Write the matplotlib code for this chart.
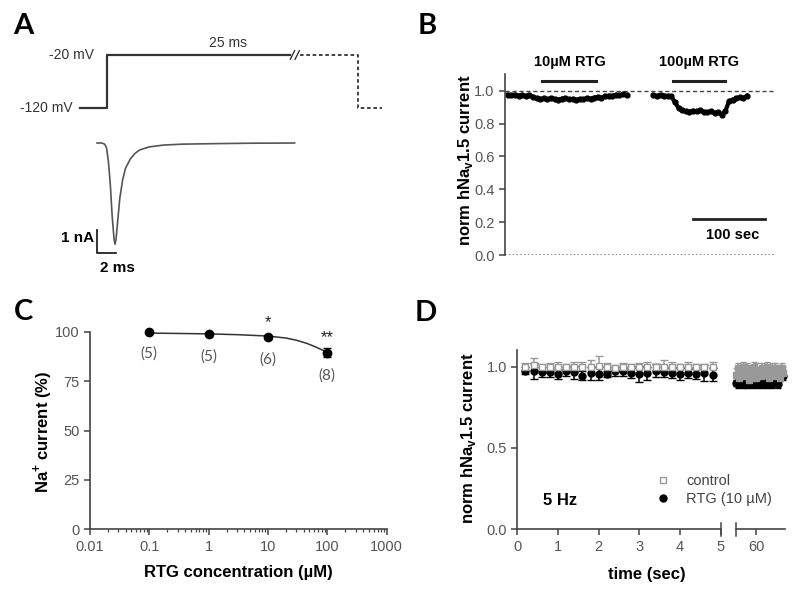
import numpy as np
import matplotlib
matplotlib.use('Agg')
import matplotlib.pyplot as plt

plt.rcParams['font.family'] = ['Liberation Sans', 'DejaVu Sans']
plt.rcParams['mathtext.fontset'] = 'custom'
plt.rcParams['mathtext.rm'] = 'Liberation Sans'
plt.rcParams['mathtext.bf'] = 'Liberation Sans:bold'

# ---- panel A: voltage protocol (ms, mV) and current trace (ms, nA)
v_t_solid = [-1.8, 1.0, 1.0, 20.3]
v_solid = [-120, -120, -20, -20]
v_t_dash = [21.4, 27.5, 27.5, 30.0]
v_dash = [-20, -20, -120, -120]
trace_t = [0, 0.5, 0.8, 1.0, 1.2, 1.4, 1.6, 1.8, 1.9, 2.0, 2.2, 2.4, 2.7,
           3.0, 3.5, 4.0, 4.5, 5.5, 7, 9, 12, 16, 20.8]
trace_i = [0, 0, -0.05, -0.2, -0.8, -1.8, -3.2, -4.2, -4.4, -4.2, -3.3, -2.4,
           -1.6, -1.1, -0.7, -0.45, -0.3, -0.17, -0.09, -0.05, -0.03, -0.01, 0]

# ---- panel B: normalised current over time (s)
b_t1 = list(range(4, 170, 5))
b_y1 = [0.975, 0.972, 0.976, 0.970, 0.974, 0.968, 0.972, 0.962, 0.955, 0.950,
        0.953, 0.948, 0.955, 0.950, 0.946, 0.952, 0.955, 0.948, 0.950, 0.944,
        0.950, 0.947, 0.955, 0.952, 0.958, 0.962, 0.958, 0.965, 0.970, 0.968,
        0.975, 0.972, 0.978, 0.975]
b_t2 = list(range(206, 337, 5))
b_y2 = [0.972, 0.968, 0.975, 0.970, 0.968, 0.965, 0.930, 0.895, 0.880, 0.875,
        0.872, 0.878, 0.875, 0.880, 0.872, 0.868, 0.875, 0.865, 0.870, 0.855,
        0.875, 0.935, 0.945, 0.955, 0.960, 0.955, 0.970]
bar10 = [52, 127]
bar100 = [233, 306]
scale_b = [261, 361]

# ---- panel C: dose response
conc = [0.1, 1, 10, 100]
na_cur = [100, 98.8, 97.1, 89.3]
na_err = [0.4, 0.5, 0.6, 2.2]
n_cells = ['(5)', '(5)', '(6)', '(8)']
stars = ['', '', '*', '**']
fit_x = [0.1, 0.33, 1, 3, 10, 20, 30, 45, 60, 80, 100]
fit_y = [99.3, 99.1, 98.9, 98.5, 97.8, 96.8, 95.7, 94.1, 92.6, 90.9, 89.5]
c_ticks = [0.01, 0.1, 1, 10, 100, 1000]
c_ticklabels = ['0.01', '0.1', '1', '10', '100', '1000']

# ---- panel D: 5 Hz train
d_t = [0.2, 0.4, 0.6, 0.8, 1.0, 1.2, 1.4, 1.6, 1.8, 2.0, 2.2, 2.4, 2.6, 2.8,
       3.0, 3.2, 3.4, 3.6, 3.8, 4.0, 4.2, 4.4, 4.6, 4.8]
ctrl = [1.0, 1.01, 0.995, 1.0, 1.0, 0.995, 1.0, 1.0, 1.0, 1.005, 1.0, 0.99,
        1.0, 0.995, 1.0, 1.0, 0.995, 1.0, 1.0, 0.995, 1.0, 0.995, 0.995, 1.0]
ctrl_err = [0.02, 0.04, 0.02, 0.02, 0.03, 0.02, 0.03, 0.03, 0.04, 0.06, 0.02,
            0.02, 0.02, 0.02, 0.02, 0.03, 0.02, 0.04, 0.03, 0.02, 0.03, 0.02,
            0.02, 0.03]
rtg = [0.975, 0.975, 0.965, 0.965, 0.955, 0.97, 0.965, 0.945, 0.96, 0.955,
       0.955, 0.97, 0.97, 0.96, 0.955, 0.96, 0.975, 0.965, 0.96, 0.955, 0.96,
       0.955, 0.96, 0.95]
rtg_err = [0.02, 0.05, 0.03, 0.03, 0.03, 0.03, 0.04, 0.03, 0.04, 0.04, 0.02,
           0.03, 0.03, 0.03, 0.05, 0.04, 0.04, 0.03, 0.03, 0.04, 0.03, 0.03,
           0.05, 0.04]
d_t60 = [55.0, 55.4, 55.8, 56.2, 56.6, 57.0, 57.4, 57.8, 58.2, 58.6, 59.0,
         59.4, 59.8, 60.2, 60.6, 61.0, 61.4, 61.8, 62.2, 62.6, 63.0, 63.4,
         63.8, 64.2, 64.6, 65.0, 65.4, 65.8, 66.2, 66.6]
ctrl60 = [0.95, 0.99, 0.93, 0.97, 1.0, 0.94, 0.96, 0.99, 0.92, 0.97, 0.95,
          1.0, 0.93, 0.98, 0.96, 0.94, 0.99, 0.95, 0.97, 1.0, 0.93, 0.96,
          0.98, 0.94, 0.99, 0.95, 0.97, 0.93, 0.99, 0.96]
ctrl60_err = [0.04, 0.03, 0.05, 0.04, 0.03, 0.05, 0.04, 0.03, 0.05, 0.04,
              0.04, 0.03, 0.05, 0.04, 0.04, 0.05, 0.03, 0.04, 0.04, 0.03,
              0.05, 0.04, 0.04, 0.05, 0.03, 0.04, 0.04, 0.05, 0.03, 0.04]
rtg60 = [0.90, 0.89, 0.91, 0.90, 0.89, 0.90, 0.91, 0.89, 0.90, 0.90, 0.89,
         0.91, 0.90, 0.89, 0.90, 0.91, 0.89, 0.90, 0.90, 0.89, 0.91, 0.90,
         0.89, 0.90, 0.91, 0.90, 0.89, 0.93, 0.95, 0.94]
rtg60_err = [0.02] * len(rtg60)

W, H = 800, 598
fig = plt.figure(figsize=(W / 100, H / 100), dpi=100)

GRAY_TXT = '#555555'
SPINE = '#444444'


def px_axes(x0, y0, x1, y1):
    ax = fig.add_axes([x0 / W, 1 - y1 / H, (x1 - x0) / W, (y1 - y0) / H])
    ax.patch.set_alpha(0)
    return ax


def ftext(x, y, s, **kw):
    fig.text(x / W, 1 - y / H, s, **kw)


def style_axis(ax):
    for s in ['top', 'right']:
        ax.spines[s].set_visible(False)
    for s in ['left', 'bottom']:
        ax.spines[s].set_color(SPINE)
        ax.spines[s].set_linewidth(1.2)
    ax.tick_params(direction='out', length=4, width=1.1, color=SPINE,
                   labelcolor=GRAY_TXT, labelsize=10.5)


# ---------------- panel A
axv = px_axes(70, 40, 390, 120)
axv.set_xlim((70 - 97) / 9.5, (390 - 97) / 9.5)
axv.set_ylim(-142.6, 8.3)
axv.axis('off')
axv.plot(v_t_solid, v_solid, color='#333333', lw=1.6)
axv.plot(v_t_dash, v_dash, color='#333333', lw=1.3, ls=(0, (2, 1.5)))
for x0 in [20.35, 20.85]:
    axv.plot([x0, x0 + 0.45], [-28, -12], color='#333333', lw=1.0)
axv.text(-0.3, -20, '-20 mV', ha='right', va='center', fontsize=10, color='#333333')
axv.text(-2.6, -120, '-120 mV', ha='right', va='center', fontsize=10, color='#333333')
axv.text(13.8, 3, '25 ms', ha='center', va='center', fontsize=10, color='#333333')

axi = px_axes(40, 130, 390, 290)
axi.set_xlim((40 - 97) / 9.5, (390 - 97) / 9.5)
axi.set_ylim(-(290 - 143) / 23, (143 - 130) / 23)
axi.axis('off')
axi.plot(trace_t, trace_i, color='#555555', lw=1.2)
axi.plot([0, 0, 2], [-3.8, -4.8, -4.8], color='#222222', lw=1.3)
axi.text(-0.35, -4.15, '1 nA', ha='right', va='center', fontsize=11, fontweight='bold')
axi.text(2.1, -5.45, '2 ms', ha='center', va='center', fontsize=11, fontweight='bold')

# ---------------- panel B
axb = px_axes(505, 74.3, 775, 255)
style_axis(axb)
axb.spines['bottom'].set_visible(False)
axb.set_xlim(0, 375)
axb.set_ylim(0, 1.1)
axb.set_xticks([])
axb.set_yticks([0, 0.2, 0.4, 0.6, 0.8, 1.0])
axb.set_yticklabels(['0.0', '0.2', '0.4', '0.6', '0.8', '1.0'])
axb.axhline(0, color='#666666', lw=1.1, ls=(0, (1, 1.5)))
axb.axhline(1.0, color='#444444', lw=1.0, ls=(0, (3, 2)))
axb.plot(b_t1, b_y1, 'o-', color='black', ms=3.5, lw=3)
axb.plot(b_t2, b_y2, 'o-', color='black', ms=3.5, lw=3)
axb.plot(bar10, [1.06, 1.06], color='#222222', lw=2.2, clip_on=False)
axb.plot(bar100, [1.06, 1.06], color='#222222', lw=2.2, clip_on=False)
axb.plot(scale_b, [0.22, 0.22], color='#222222', lw=2.0)
axb.text(np.mean(bar10), 1.177, '10µM RTG', ha='center', va='center',
         fontsize=10.5, fontweight='bold')
axb.text(np.mean(bar100), 1.177, '100µM RTG', ha='center', va='center',
         fontsize=10.5, fontweight='bold')
axb.text(316, 0.122, '100 sec', ha='center', va='center', fontsize=10.5,
         fontweight='bold')
ftext(465, 160, r'norm hNa$_\mathbf{v}$1.5 current', rotation=90, ha='center',
      va='center', fontsize=12, fontweight='bold')

# ---------------- panel C
axc = px_axes(90, 331.7, 386.7, 529.3)
style_axis(axc)
axc.set_xscale('log')
axc.set_xlim(0.01, 1000)
axc.set_ylim(0, 100)
axc.set_xticks(c_ticks)
axc.set_xticklabels(c_ticklabels)
axc.set_yticks([0, 25, 50, 75, 100])
axc.tick_params(which='minor', length=2.5, width=0.9, color=SPINE)
axc.plot(fit_x, fit_y, color='#333333', lw=1.1, clip_on=False)
axc.errorbar(conc, na_cur, yerr=na_err, fmt='o', color='black', ms=6,
             capsize=3, elinewidth=1.2, clip_on=False, zorder=3)
for x, y, n, s in zip(conc, na_cur, n_cells, stars):
    axc.annotate(n, (x, y), xytext=(0, -16), textcoords='offset points',
                 ha='center', va='center', fontsize=11, color=GRAY_TXT,
                 family=['Lato', 'DejaVu Sans'])
    if s:
        axc.annotate(s, (x, y), xytext=(0, 11), textcoords='offset points',
                     ha='center', va='center', fontsize=12, color='#222222')
ftext(43, 431.7, r'Na$^\mathbf{+}$ current (%)', rotation=90, ha='center',
      va='center', fontsize=12, fontweight='bold')
ftext(238, 573, 'RTG concentration (µM)', ha='center', va='center',
      fontsize=12, fontweight='bold')

# ---------------- panel D (broken x axis: 0-5 s and around 60 s)
axd2 = px_axes(736, 350.3, 785, 529.3)
style_axis(axd2)
axd2.spines['left'].set_visible(False)
axd2.set_xlim(55, 67)
axd2.set_ylim(0, 1.1)
axd2.set_yticks([])
axd2.set_xticks([60])
axd2.plot([0, 0], [-0.035, 0.035], transform=axd2.transAxes, color=SPINE,
          lw=1.1, clip_on=False)
axd2.errorbar(d_t60, rtg60, yerr=rtg60_err, fmt='o', color='black', ms=5,
              capsize=2.5, elinewidth=1.1, clip_on=False, zorder=3)
axd2.errorbar(d_t60, ctrl60, yerr=[np.zeros(len(ctrl60_err)), ctrl60_err],
              fmt='s', color='#999999', mfc='#999999', mec='#999999', ms=5,
              capsize=2.5, elinewidth=1.1, clip_on=False, zorder=4)

axd = px_axes(517.3, 350.3, 720.7, 529.3)
style_axis(axd)
axd.set_xlim(0, 5)
axd.set_ylim(0, 1.1)
axd.set_xticks([0, 1, 2, 3, 4, 5])
axd.set_yticks([0, 0.5, 1.0])
axd.set_yticklabels(['0.0', '0.5', '1.0'])
eb_r = axd.errorbar(d_t, rtg, yerr=rtg_err, fmt='o', color='black', ms=5,
                    capsize=3, elinewidth=1.1, zorder=3)
eb_c = axd.errorbar(d_t, ctrl, yerr=[np.zeros(len(ctrl_err)), ctrl_err],
                    fmt='s', color='#999999', mfc='white', mec='#999999',
                    ms=5, capsize=3, elinewidth=1.1, zorder=4)
axd.plot([1, 1], [-0.035, 0.035], transform=axd.transAxes, color=SPINE,
         lw=1.1, clip_on=False)
axd.legend([eb_c[0], eb_r[0]], ['control', 'RTG (10 µM)'], loc='upper left',
           bbox_to_anchor=(0.687, 0.31), frameon=False, fontsize=10.5,
           handlelength=0.8, handletextpad=1.2, labelspacing=0.3,
           borderpad=0, borderaxespad=0, labelcolor='#444444')
axd.text(0.21, 0.16, '5 Hz', transform=axd.transAxes, ha='center',
         va='center', fontsize=12, fontweight='bold')
ftext(468, 438, r'norm hNa$_\mathbf{v}$1.5 current', rotation=90, ha='center',
      va='center', fontsize=12, fontweight='bold')
ftext(646.7, 575, 'time (sec)', ha='center', va='center', fontsize=12,
      fontweight='bold')

# ---------------- panel letters
for x, y, s in [(23, 26, 'A'), (427, 26, 'B'), (23.5, 312.5, 'C'), (426, 313, 'D')]:
    ftext(x, y, s, ha='center', va='center', fontsize=21, fontweight='bold',
          family=['Lato', 'DejaVu Sans'])

fig.savefig('out.png', dpi=100)
